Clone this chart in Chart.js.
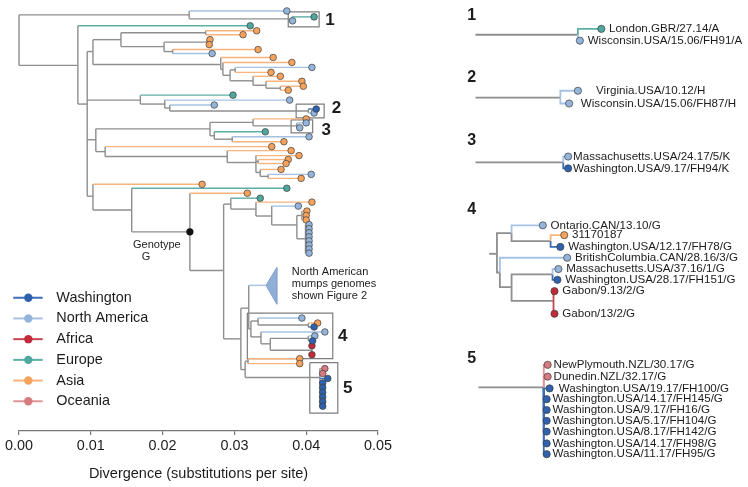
<!DOCTYPE html>
<html>
<head>
<meta charset="utf-8">
<script src="https://cdn.jsdelivr.net/npm/chart.js@4.4.0/dist/chart.umd.min.js"></script>
<style>
  body { margin: 0; background: #fff; }
  #wrap { display: flex; width: 748px; height: 487px; }
  canvas { display: block; }
</style>
</head>
<body>
<div id="wrap">
  <canvas id="tree" width="400" height="487"></canvas>
  <canvas id="zoomed" width="348" height="487"></canvas>
</div>
<script>
// regions: tip colours and the lighter colour of their branch
const regionKeys = ["WA", "NA", "AF", "EU", "AS", "OC"];
const regionNames = ["Washington", "North America", "Africa", "Europe", "Asia", "Oceania"];
const regionColors = ["#2e62ad", "#93b4db", "#c02a3b", "#4fa89e", "#f5a25c", "#d87b80"];
const branchColors = ["#3d6db3", "#a6c2e3", "#c8454f", "#5cafa4", "#f7b47c", "#df9498"];
const xTicks = [0, 0.01, 0.02, 0.03, 0.04, 0.05];

// main tree: id, parent, divergence, vertical position, region ('' = internal node)
const treeNodes = [
  ["r", null, 0, 36.5, ""],
  ["a", "r", 0.0237, 11, ""],
  ["", "a", 0.0373, 7, "NA"],
  ["a2", "a", 0.0380, 15, ""],
  ["", "a2", 0.0411, 13, "EU"],
  ["", "a2", 0.0381, 17, "NA"],
  ["b", "r", 0.0082, 62, ""],
  ["", "b", 0.0322, 22, "EU"],
  ["c", "b", 0.0095, 101, ""],
  ["c1", "c", 0.0103, 48, ""],
  ["c1a", "c1", 0.0142, 36, ""],
  ["c1a1", "c1a", 0.0260, 29, ""],
  ["", "c1a1", 0.0331, 27, "AS"],
  ["", "c1a1", 0.0312, 31, "AS"],
  ["c1a2", "c1a", 0.0202, 43, ""],
  ["c1a3", "c1a2", 0.0262, 38.5, ""],
  ["", "c1a3", 0.0266, 36, "AS"],
  ["", "c1a3", 0.0265, 41, "AS"],
  ["c1a4", "c1a2", 0.0214, 48, ""],
  ["", "c1a4", 0.0333, 46, "AS"],
  ["", "c1a4", 0.0269, 50, "NA"],
  ["c1b", "c1", 0.0281, 61, ""],
  ["", "c1b", 0.0354, 54, "AS"],
  ["c1b1", "c1b", 0.0284, 66, ""],
  ["", "c1b1", 0.0380, 59, "AS"],
  ["c1b2", "c1b1", 0.0294, 72, ""],
  ["c1b3", "c1b2", 0.0301, 66.5, ""],
  ["", "c1b3", 0.0408, 64, "NA"],
  ["", "c1b3", 0.0351, 69, "AS"],
  ["c1b4", "c1b2", 0.0326, 77.5, ""],
  ["", "c1b4", 0.0364, 73, "AS"],
  ["c1b5", "c1b4", 0.0344, 82, ""],
  ["", "c1b5", 0.0394, 78, "AS"],
  ["c1b6", "c1b5", 0.0364, 85, ""],
  ["", "c1b6", 0.0396, 83, "AS"],
  ["", "c1b6", 0.0375, 87, "AS"],
  ["c2", "c", 0.0169, 97, ""],
  ["", "c2", 0.0298, 92, "EU"],
  ["c2a", "c2", 0.0203, 101, ""],
  ["", "c2a", 0.0377, 97, "NA"],
  ["c2b", "c2a", 0.0210, 105, ""],
  ["", "c2b", 0.0272, 102, "NA"],
  ["c2c", "c2b", 0.0403, 108, ""],
  ["", "c2c", 0.0414, 106, "WA"],
  ["", "c2c", 0.0411, 110, "NA"],
  ["c3", "c", 0.0107, 137, ""],
  ["c3a", "c3", 0.0266, 126, ""],
  ["c3b", "c3a", 0.0326, 119.5, ""],
  ["", "c3b", 0.0400, 116, "AS"],
  ["c3c", "c3b", 0.0387, 123, ""],
  ["", "c3c", 0.0400, 120, "NA"],
  ["", "c3c", 0.0391, 125, "NA"],
  ["c3d", "c3a", 0.0272, 133, ""],
  ["", "c3d", 0.0343, 129, "EU"],
  ["c3e", "c3d", 0.0297, 136.5, ""],
  ["", "c3e", 0.0404, 134, "NA"],
  ["", "c3e", 0.0369, 139, "AS"],
  ["c3f", "c3", 0.0120, 149, ""],
  ["", "c3f", 0.0352, 144, "AS"],
  ["c3g", "c3f", 0.0290, 154, ""],
  ["", "c3g", 0.0379, 148, "AS"],
  ["c3h", "c3g", 0.0330, 160, ""],
  ["", "c3h", 0.0390, 153, "AS"],
  ["c3i", "c3h", 0.0333, 159, ""],
  ["", "c3i", 0.0375, 157, "AS"],
  ["", "c3i", 0.0372, 161, "AS"],
  ["c3j", "c3h", 0.0336, 170, ""],
  ["", "c3j", 0.0365, 167, "AS"],
  ["c3k", "c3j", 0.0347, 174, ""],
  ["", "c3k", 0.0407, 172, "NA"],
  ["", "c3k", 0.0393, 176, "AS"],
  ["c4", "c", 0.0103, 194, ""],
  ["", "c4", 0.0255, 182, "AS"],
  ["c4a", "c4", 0.0157, 208, ""],
  ["", "c4a", 0.0373, 186, "EU"],
  ["G", "c4a", 0.0238, 230, ""],
  ["", "G", 0.0318, 191, "AS"],
  ["g1", "G", 0.0285, 269, ""],
  ["g2", "g1", 0.0295, 202, ""],
  ["", "g2", 0.0336, 196, "EU"],
  ["g3", "g2", 0.0330, 207, ""],
  ["", "g3", 0.0408, 200, "AS"],
  ["g4", "g3", 0.0352, 214, ""],
  ["", "g4", 0.0389, 204, "NA"],
  ["g5", "g4", 0.0387, 223, ""],
  ["g6", "g5", 0.0394, 213.5, ""],
  ["", "g6", 0.0401, 209, "AS"],
  ["", "g6", 0.0400, 213.5, "AS"],
  ["", "g6", 0.0400, 218, "AS"],
  ["g7", "g5", 0.0399, 237, ""],
  ["", "g7", 0.0404, 222.7, "NA"],
  ["", "g7", 0.0404, 226.8, "NA"],
  ["", "g7", 0.0404, 230.9, "NA"],
  ["", "g7", 0.0404, 235, "NA"],
  ["", "g7", 0.0404, 239.1, "NA"],
  ["", "g7", 0.0404, 243.2, "NA"],
  ["", "g7", 0.0404, 247.3, "NA"],
  ["", "g7", 0.0404, 251.5, "NA"],
  ["g8", "g1", 0.0309, 338, ""],
  ["g9", "g8", 0.0320, 307, ""],
  ["tri", "g9", 0.0344, 284, "NA"],
  ["b4", "g9", 0.0323, 328, ""],
  ["b4a", "b4", 0.0333, 320, ""],
  ["", "b4a", 0.0394, 317, "NA"],
  ["b4b", "b4a", 0.0403, 324, ""],
  ["", "b4b", 0.0416, 322, "AS"],
  ["", "b4b", 0.0411, 326, "WA"],
  ["b4c", "b4", 0.0337, 336, ""],
  ["", "b4c", 0.0426, 331, "NA"],
  ["b4d", "b4c", 0.0350, 343, ""],
  ["b4e", "b4d", 0.0403, 337.5, ""],
  ["", "b4e", 0.0412, 335, "NA"],
  ["", "b4e", 0.0409, 340, "WA"],
  ["b4f", "b4d", 0.0408, 349.5, ""],
  ["", "b4f", 0.0408, 345, "AF"],
  ["", "b4f", 0.0408, 354, "AF"],
  ["g10", "g8", 0.0315, 369, ""],
  ["g11", "g10", 0.0319, 360.5, ""],
  ["", "g11", 0.0391, 358, "AS"],
  ["", "g11", 0.0391, 363, "AS"],
  ["b5", "g10", 0.0419, 377, ""],
  ["", "b5", 0.0426, 368, "OC"],
  ["", "b5", 0.0423, 373, "OC"],
  ["", "b5", 0.0430, 378, "WA"],
  ["", "b5", 0.0423, 382.5, "WA"],
  ["", "b5", 0.0423, 387.2, "WA"],
  ["", "b5", 0.0423, 391.9, "WA"],
  ["", "b5", 0.0423, 396.6, "WA"],
  ["", "b5", 0.0423, 401.3, "WA"],
  ["", "b5", 0.0423, 406, "WA"]
];

// collapsed North American clade: apex and base
const collapsedApex = [0.0344, 284];
const collapsedBase = [0.0359, 266, 303];

// boxed clades: divergence left/right, top/bottom
const boxNames = ["1", "2", "3", "4", "5"];
const boxX = [[0.0375, 0.0418], [0.0386, 0.0425], [0.0379, 0.0409], [0.0318, 0.0437], [0.0405, 0.0444]];
const boxY = [[8, 23], [101, 115], [117, 130], [312, 358], [362, 413]];

// zoomed clades on the right: id, parent, horizontal position, vertical position, region, label
const inset1 = [
  ["s", null, 473, 31, ""],
  ["n", "s", 578, 31, ""],
  ["", "n", 602, 25, "EU", "London.GBR/27.14/A"],
  ["", "n", 580, 37, "NA", "Wisconsin.USA/15.06/FH91/A"]
];
const inset2 = [
  ["s", null, 473, 95, ""],
  ["n", "s", 560, 95, ""],
  ["", "n", 578, 88, "NA", "  Virginia.USA/10.12/H"],
  ["", "n", 569, 101, "NA", "Wisconsin.USA/15.06/FH87/H"]
];
const inset3 = [
  ["s", null, 473, 161, ""],
  ["n", "s", 563, 161, ""],
  ["", "n", 568, 155, "NA", "Massachusetts.USA/24.17/5/K"],
  ["", "n", 568, 167, "WA", "Washington.USA/9.17/FH94/K"]
];
const inset4 = [
  ["s", null, 487, 254, ""],
  ["A", "s", 495, 254, ""],
  ["B", "A", 510, 233, ""],
  ["", "B", 542, 225, "NA", "Ontario.CAN/13.10/G"],
  ["C", "B", 550, 241, ""],
  ["", "C", 564, 235, "AS", "31170187"],
  ["", "C", 560, 247, "WA", "Washington.USA/12.17/FH78/G"],
  ["D", "A", 498, 273, ""],
  ["", "D", 567, 258, "NA", "BritishColumbia.CAN/28.16/3/G"],
  ["E", "D", 510, 288, ""],
  ["F", "E", 552, 275, ""],
  ["", "F", 558, 269.5, "NA", "Massachusetts.USA/37.16/1/G"],
  ["", "F", 557, 280.5, "WA", "Washington.USA/28.17/FH151/G"],
  ["Gb", "E", 553, 302, ""],
  ["", "Gb", 554, 292, "AF", "Gabon/9.13/2/G"],
  ["", "Gb", 554, 315, "AF", "Gabon/13/2/G"]
];
const inset5 = [
  ["s", null, 476, 390, ""],
  ["n", "s", 543, 390, ""],
  ["", "n", 547, 367, "OC", "NewPlymouth.NZL/30.17/G"],
  ["", "n", 547, 379, "OC", "Dunedin.NZL/32.17/G"],
  ["", "n", 549, 391, "WA", " Washington.USA/19.17/FH100/G"],
  ["", "n", 546, 402, "WA", "Washington.USA/14.17/FH145/G"],
  ["", "n", 546, 413, "WA", "Washington.USA/9.17/FH16/G"],
  ["", "n", 546, 424, "WA", "Washington.USA/5.17/FH104/G"],
  ["", "n", 546, 435, "WA", "Washington.USA/8.17/FH142/G"],
  ["", "n", 546, 447, "WA", "Washington.USA/14.17/FH98/G"],
  ["", "n", 546, 458, "WA", "Washington.USA/11.17/FH95/G"]
];
const insets = [inset1, inset2, inset3, inset4, inset5];
const insetTitleY = [12, 75, 139, 209, 361];

const FONT = "'Liberation Sans', Arial, Helvetica, sans-serif";
const GREY = "#8e8e8e";
const TEXT = "#1c1c1c";

function regionIndex(key) { return regionKeys.indexOf(key); }

function segment(points, color, width, order) {
  return {
    data: points.map(p => ({ x: p[0], y: p[1] })),
    showLine: true, borderColor: color, borderWidth: width,
    pointRadius: 0, pointHoverRadius: 0, fill: false, clip: false,
    tension: 0, order: order
  };
}

function tipDatasets(nodes, radius, xi, yi) {
  return regionKeys.map((key, i) => ({
    data: nodes.filter(n => n[0] === "" && n[4] === key).map(n => ({ x: n[xi], y: n[yi] })),
    showLine: false, pointRadius: radius, pointHoverRadius: radius,
    backgroundColor: regionColors[i], borderColor: "#3e3e3e", borderWidth: 0.7,
    clip: false, order: 0
  }));
}

// ---------- main tree ----------
const byId = {};
treeNodes.forEach(n => { if (n[0]) byId[n[0]] = n; });
const mainSets = [];
treeNodes.forEach(n => {
  if (!n[1]) return;
  const p = byId[n[1]];
  const ri = regionIndex(n[4]);
  const col = ri >= 0 ? branchColors[ri] : GREY;
  mainSets.push(segment([[p[2], n[3]], [n[2], n[3]]], col, 1.4, ri >= 0 ? 3 : 4));
});
treeNodes.forEach(n => {
  if (!n[0]) return;
  const kids = treeNodes.filter(k => k[1] === n[0]);
  if (!kids.length) return;
  const ys = kids.map(k => k[3]).concat([n[3]]);
  mainSets.push(segment([[n[2], Math.min(...ys)], [n[2], Math.max(...ys)]], GREY, 1.4, 4));
});
mainSets.push({
  data: [
    { x: collapsedApex[0], y: collapsedApex[1] },
    { x: collapsedBase[0], y: collapsedBase[1] },
    { x: collapsedBase[0], y: collapsedBase[2] },
    { x: collapsedApex[0], y: collapsedApex[1] }
  ],
  showLine: true, fill: "shape", backgroundColor: "#8fafd6", borderColor: "#84a5cf",
  borderWidth: 1, pointRadius: 0, clip: false, tension: 0, order: 2
});
boxX.forEach((bx, i) => {
  const by = boxY[i];
  mainSets.push(segment([[bx[0], by[0]], [bx[1], by[0]], [bx[1], by[1]], [bx[0], by[1]], [bx[0], by[0]]], "#7d7d7d", 1.2, 5));
});
mainSets.push(...tipDatasets(treeNodes, 3.3, 2, 3));
mainSets.push({
  data: [{ x: byId.G[2], y: byId.G[3] }],
  pointRadius: 3.6, backgroundColor: "#111", borderColor: "#111", borderWidth: 0, clip: false, order: 0
});

const mainText = {
  id: "mainText",
  afterDatasetsDraw(chart) {
    const { ctx, scales: { x, y } } = chart;
    ctx.save();
    ctx.textBaseline = "middle";
    // clade numbers
    ctx.fillStyle = TEXT;
    ctx.font = "bold 17px " + FONT;
    ctx.textAlign = "center";
    const numPos = [[0.0433, 16], [0.0442, 105], [0.0428, 127], [0.0451, 335], [0.0458, 388]];
    boxNames.forEach((t, i) => ctx.fillText(t, x.getPixelForValue(numPos[i][0]), y.getPixelForValue(numPos[i][1])));
    // genotype label
    ctx.font = "11px " + FONT;
    ctx.fillText("Genotype", x.getPixelForValue(0.0192), y.getPixelForValue(243));
    ctx.fillText("G", x.getPixelForValue(0.0177), y.getPixelForValue(255));
    // collapsed clade caption
    ctx.textAlign = "left";
    ["North American", "mumps genomes", "shown Figure 2"].forEach((t, i) =>
      ctx.fillText(t, x.getPixelForValue(0.0380), y.getPixelForValue(270 + i * 12.5)));
    // legend
    ctx.font = "14.4px " + FONT;
    regionNames.forEach((name, i) => {
      const yy = y.getPixelForValue(296.5 + i * 20.9);
      ctx.strokeStyle = branchColors[i];
      ctx.lineWidth = 2;
      ctx.beginPath();
      ctx.moveTo(x.getPixelForValue(-0.0008), yy);
      ctx.lineTo(x.getPixelForValue(0.0033), yy);
      ctx.stroke();
      ctx.fillStyle = regionColors[i];
      ctx.beginPath();
      ctx.arc(x.getPixelForValue(0.0013), yy, 4.2, 0, Math.PI * 2);
      ctx.fill();
      ctx.fillStyle = TEXT;
      ctx.fillText(name, x.getPixelForValue(0.0052), yy);
    });
    ctx.restore();
  }
};

new Chart(document.getElementById("tree"), {
  type: "scatter",
  data: { datasets: mainSets },
  options: {
    responsive: false, animation: false, events: [],
    layout: { padding: { left: 19, right: 22, top: 0, bottom: 0 } },
    plugins: { legend: { display: false }, tooltip: { enabled: false } },
    scales: {
      x: {
        type: "linear", min: 0, max: 0.05,
        afterBuildTicks: s => { s.ticks = xTicks.map(v => ({ value: v })); },
        afterFit: s => { s.height = 56; },
        ticks: { callback: v => v.toFixed(2), color: TEXT, font: { family: FONT, size: 14.4 }, padding: 2 },
        grid: { drawOnChartArea: false, tickLength: 4, color: "#777", lineWidth: 1.2 },
        border: { color: "#777", width: 1.2 },
        title: { display: true, text: "Divergence (substitutions per site)", color: TEXT,
                 font: { family: FONT, size: 14.5 }, padding: { top: 4, bottom: 4 } }
      },
      y: { type: "linear", min: 0, max: 431, reverse: true, display: false }
    }
  },
  plugins: [mainText]
});

// ---------- zoomed clades ----------
const zoomSets = [];
insets.forEach(nodes => {
  const ids = {};
  nodes.forEach(n => { if (n[0]) ids[n[0]] = n; });
  nodes.forEach(n => {
    if (!n[1]) return;
    const p = ids[n[1]];
    const ri = regionIndex(n[4]);
    const col = ri >= 0 ? branchColors[ri] : GREY;
    zoomSets.push(segment([[p[2], p[3]], [p[2], n[3]], [n[2], n[3]]], col, 1.8, ri >= 0 ? 3 : 4));
  });
  zoomSets.push(...tipDatasets(nodes, 3.6, 2, 3));
});

const zoomText = {
  id: "zoomText",
  afterDatasetsDraw(chart) {
    const { ctx, scales: { x, y } } = chart;
    ctx.save();
    ctx.textBaseline = "middle";
    ctx.fillStyle = TEXT;
    ctx.textAlign = "center";
    ctx.font = "bold 16px " + FONT;
    boxNames.forEach((t, i) => ctx.fillText(t, x.getPixelForValue(469), y.getPixelForValue(insetTitleY[i])));
    ctx.textAlign = "left";
    ctx.font = "11.6px " + FONT;
    const gaps = [8, 12, 5, 8, 6];
    insets.forEach((nodes, k) => {
      nodes.filter(n => n[5]).forEach(n => {
        ctx.fillText(n[5], x.getPixelForValue(n[2] + gaps[k]), y.getPixelForValue(n[3]));
      });
    });
    ctx.restore();
  }
};

new Chart(document.getElementById("zoomed"), {
  type: "scatter",
  data: { datasets: zoomSets },
  options: {
    responsive: false, animation: false, events: [],
    layout: { padding: 0 },
    plugins: { legend: { display: false }, tooltip: { enabled: false } },
    scales: {
      x: { type: "linear", min: 400, max: 748, display: false },
      y: { type: "linear", min: 0, max: 487, reverse: true, display: false }
    }
  },
  plugins: [zoomText]
});
</script>
</body>
</html>
